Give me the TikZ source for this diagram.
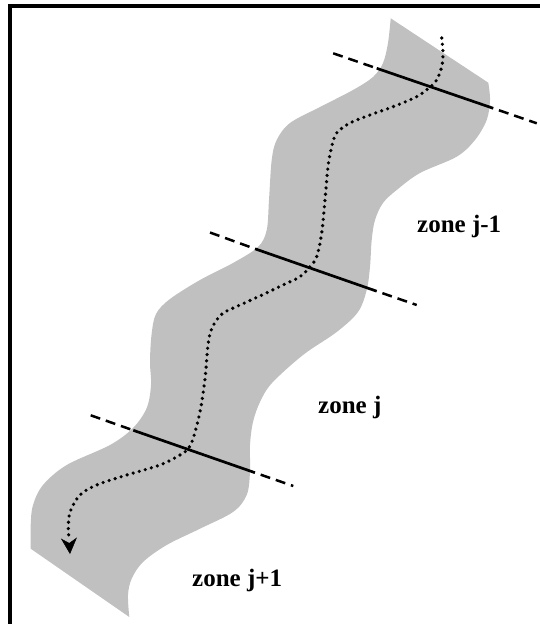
\documentclass[tikz,border=0pt]{standalone}
\usepackage{fontspec}
\setmainfont{Liberation Serif}
\usetikzlibrary{arrows.meta}
\definecolor{bandgray}{RGB}{192,192,192}
\tikzset{
  band/.style={fill=bandgray, draw=none},
  cutsolid/.style={line width=2.7pt, black},
  cutdash/.style={line width=2.5pt, black, dash pattern=on 10pt off 6pt},
  flowpath/.style={line width=3.6pt, line cap=round, dash pattern=on 0pt off 6.3pt},
  flowtip/.style={line width=0.5pt, -{Stealth[length=16pt,width=16pt,inset=5pt]}},
  zonelabel/.style={anchor=base west, inner sep=0pt, font=\fontsize{25}{30}\selectfont\bfseries},
  frameline/.style={line width=3.4pt, black}
}
\begin{document}
\begin{tikzpicture}[x=1pt,y=-1pt]
\useasboundingbox (0,0) rectangle (540,624);
% frame (cropped on right and bottom)
\coordinate (fbl) at (10,640);
\coordinate (ftl) at (10,6);
\coordinate (ftr) at (560,6);
\draw[frameline] (fbl) -- (ftl) -- (ftr);
% band
\fill[band] plot[smooth, tension=0.55] coordinates {
 (390.7,18.3) (388,43) (383,63) (373,77) (353,90) (320,107) (290,123)
 (276.7,140) (271.7,160) (269,200) (266.7,230) (258,247) (233,263) (200,280)
 (170,299) (156,314) (151.5,335) (150,362) (151,385) (146.7,408) (133,428)
 (110,445) (66.7,465) (43,485) (33,505) (30.7,525) (30.7,548.7)}
 -- plot[smooth, tension=0.55] coordinates {
 (129.3,617) (128,595) (131.7,578.7) (143,562) (166.7,545) (200,528.7)
 (233,512) (246.7,495) (250,472) (250,445) (253,422) (260,402) (272,383)
 (303,355) (336.7,332) (358,312) (366.7,290) (370,266.7) (371.7,240)
 (375,220) (383,203) (396.7,190) (420,173) (456.7,156.7) (475,140)
 (486.7,120) (490,100) (488.3,82.7)} -- cycle;
% cut lines
\coordinate (a1) at (333.2,53.3);
\coordinate (a2) at (376.7,68.3);
\coordinate (a3) at (493.3,108.3);
\coordinate (a4) at (536.8,123.3);
\coordinate (b1) at (210,232.5);
\coordinate (b2) at (255,248.8);
\coordinate (b3) at (376.7,291.2);
\coordinate (b4) at (416.7,305);
\coordinate (c1) at (90.7,415.3);
\coordinate (c2) at (133.3,430.3);
\coordinate (c3) at (255,472.7);
\coordinate (c4) at (293.3,486);
\foreach \p in {a,b,c}{
  \draw[cutdash] (\p1) -- (\p2);
  \draw[cutsolid] (\p2) -- (\p3);
  \draw[cutdash, dash phase=10pt] (\p3) -- (\p4);
}
% flow path
\coordinate (tipbase) at (69.6,548);
\coordinate (tip) at (70,554);
\draw[flowpath] plot[smooth, tension=0.55] coordinates {
 (441.7,38) (443,53) (441.7,66.7) (436.7,80) (430,87) (416.7,96.7)
 (393,106.7) (370,115) (350,123) (336.7,133) (331.7,146.7) (328,166.7)
 (325,200) (321.7,233) (316.7,256.7) (310,266.7) (300,276.7) (283,285)
 (260,296) (240,305) (222,314) (212,328) (208,345) (205,378.7) (200,412)
 (193,438.7) (188,449) (180,455) (160,465) (126.7,475) (96.7,485) (80,495)
 (70,512) (68.3,528.7) (69,537)};
\draw[flowtip] (tipbase) -- (tip);
% labels
\node[zonelabel] (zjm1) at (417,232) {zone j-1};
\node[zonelabel] (zj) at (318,413) {zone j};
\node[zonelabel] (zjp1) at (192,586) {zone j+1};
\end{tikzpicture}
\end{document}
